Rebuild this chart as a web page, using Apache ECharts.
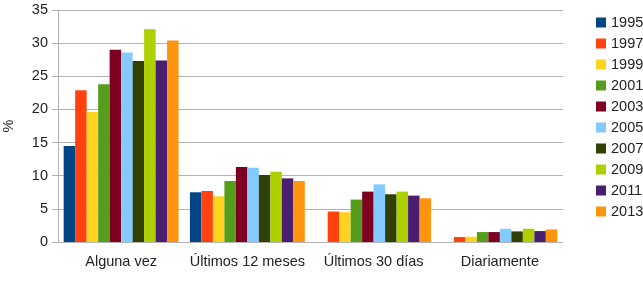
<!DOCTYPE html>
<html>
<head>
<meta charset="utf-8">
<script src="https://cdn.jsdelivr.net/npm/echarts@6/dist/echarts.min.js"></script>
<style>
  html, body { margin: 0; padding: 0; background: #fff; }
  #chart { width: 643px; height: 291px; }
</style>
</head>
<body>
<div id="chart"></div>
<script>
// categorias del eje x
const categories = ['Alguna vez', 'Últimos 12 meses', 'Últimos 30 días', 'Diariamente'];
const years = ['1995', '1997', '1999', '2001', '2003', '2005', '2007', '2009', '2011', '2013'];
const colors = ['#004586', '#ff420e', '#ffd320', '#579d1c', '#7e0021', '#83caff', '#314004', '#aecf00', '#4b1f6f', '#ff950e'];

// valores (%) por año, en orden de categorias
const v1995 = [14.5, 7.5, null, null];
const v1997 = [22.9, 7.7, 4.6, 0.75];
const v1999 = [19.6, 6.9, 4.5, 0.8];
const v2001 = [23.8, 9.2, 6.4, 1.5];
const v2003 = [29.0, 11.3, 7.6, 1.5];
const v2005 = [28.6, 11.2, 8.7, 2.0];
const v2007 = [27.3, 10.1, 7.2, 1.6];
const v2009 = [32.1, 10.6, 7.6, 2.0];
const v2011 = [27.4, 9.6, 7.0, 1.65];
const v2013 = [30.4, 9.2, 6.6, 1.9];
const values = [v1995, v1997, v1999, v2001, v2003, v2005, v2007, v2009, v2011, v2013];

const font = 'Liberation Sans';
const fs = 14.5;
const chart = echarts.init(document.getElementById('chart'));

const series = years.map((y, i) => ({
    name: y,
    type: 'bar',
    data: values[i],
    barGap: '0%',
    barCategoryGap: '9%',
    itemStyle: { color: colors[i] }
}));

chart.setOption({
    animation: false,
    textStyle: { fontFamily: font },
    grid: { left: 58, right: 80, top: 10, bottom: 49, containLabel: false, outerBoundsMode: 'none' },
    legend: {
        orient: 'vertical',
        left: 591,
        top: 10,
        itemWidth: 10,
        itemHeight: 10,
        itemGap: 6,
        icon: 'rect',
        data: years,
        textStyle: { fontFamily: font, fontSize: fs, color: '#222' }
    },
    xAxis: {
        type: 'category',
        data: categories,
        axisLine: { lineStyle: { color: '#b3b3b3' } },
        axisTick: { length: 6, lineStyle: { color: '#b3b3b3' } },
        axisLabel: { interval: 0, fontFamily: font, fontSize: fs, color: '#222', margin: 12 }
    },
    yAxis: {
        type: 'value',
        min: 0,
        max: 35,
        interval: 5,
        name: '%',
        nameLocation: 'middle',
        nameGap: 42,
        nameRotate: 90,
        nameTextStyle: { fontFamily: font, fontSize: fs, color: '#222' },
        axisLine: { show: true, lineStyle: { color: '#b3b3b3' } },
        axisTick: { show: true, length: 6, lineStyle: { color: '#b3b3b3' } },
        axisLabel: { fontFamily: font, fontSize: fs, color: '#222', margin: 10 },
        splitLine: { lineStyle: { color: '#b3b3b3' } }
    },
    series: series
});
</script>
</body>
</html>
